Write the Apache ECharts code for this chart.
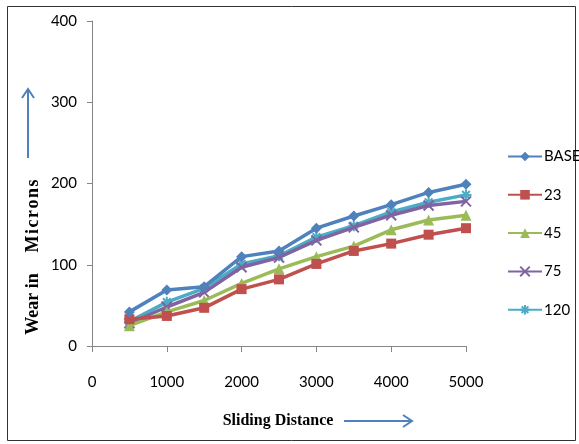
<!DOCTYPE html>
<html>
<head>
<meta charset="utf-8">
<script src="https://cdn.jsdelivr.net/npm/echarts@6/dist/echarts.min.js"></script>
<style>
html,body{margin:0;padding:0;background:#fff;}
#chart{width:579px;height:444px;}
</style>
</head>
<body>
<div id="chart"></div>
<script>
// Sliding distance (m) at which wear was measured
const distances = [500, 1000, 1500, 2000, 2500, 3000, 3500, 4000, 4500, 5000];

// Wear in microns for each specimen
const wearBase = [42, 69, 73, 110, 117, 145, 160, 174, 189, 199];
const wear23   = [33, 37, 47, 70, 82, 101, 117, 126, 137, 145];
const wear45   = [25, 42, 56, 77, 95, 110, 123, 143, 155, 161];
const wear75   = [28, 48, 66, 97, 109, 130, 146, 161, 173, 178];
const wear120  = [30, 54, 71, 101, 111, 134, 148, 165, 177, 186];

const seriesNames = ['BASE', '23', '45', '75', '120'];
const yTicks = [0, 100, 200, 300, 400];
const xTicks = [0, 1000, 2000, 3000, 4000, 5000];

const colors = ['#4F81BD', '#C0504D', '#9BBB59', '#8064A2', '#4BACC6'];
const symbols = [
  'diamond',
  'rect',
  'triangle',
  'path://M0,0L10,10M10,0L0,10',
  'path://M5,0L5,10M0,5L10,5M1.5,1.5L8.5,8.5M8.5,1.5L1.5,8.5'
];
const symbolSizes = [11, 10, 11, 10, 11];
const allWear = [wearBase, wear23, wear45, wear75, wear120];

const labelFont = 'Lato';

const chart = echarts.init(document.getElementById('chart'));

const series = seriesNames.map((name, i) => ({
  name: name,
  type: 'line',
  data: distances.map((d, j) => [d, allWear[i][j]]),
  symbol: symbols[i],
  symbolSize: symbolSizes[i],
  showSymbol: true,
  lineStyle: { color: colors[i], width: 3.5 },
  itemStyle: i >= 3
    ? { color: colors[i], borderColor: colors[i], borderWidth: 2 }
    : { color: colors[i] },
  animation: false,
  z: 10 - i
}));

chart.setOption({
  animation: false,
  backgroundColor: '#ffffff',
  grid: { left: 92, right: 113, top: 21, bottom: 98 },
  xAxis: {
    type: 'value',
    min: xTicks[0],
    max: xTicks[xTicks.length - 1],
    interval: 1000,
    axisLine: { show: true, lineStyle: { color: '#868686', width: 1 } },
    axisTick: { show: true, length: 6, lineStyle: { color: '#868686' } },
    splitLine: { show: false },
    axisLabel: {
      color: '#000', fontFamily: labelFont, fontSize: 15, margin: 29,
      formatter: v => xTicks.includes(v) ? String(v) : ''
    }
  },
  yAxis: {
    type: 'value',
    min: yTicks[0],
    max: yTicks[yTicks.length - 1],
    interval: 100,
    axisLine: { show: true, lineStyle: { color: '#868686', width: 1 } },
    axisTick: { show: true, length: 5, lineStyle: { color: '#868686' } },
    splitLine: { show: false },
    axisLabel: {
      color: '#000', fontFamily: labelFont, fontSize: 15, margin: 15,
      formatter: v => yTicks.includes(v) ? String(v) : ''
    }
  },
  legend: {
    orient: 'vertical',
    left: 502,
    top: 144,
    itemWidth: 34,
    itemHeight: 12,
    itemGap: 23.3,
    textStyle: { color: '#000', fontFamily: labelFont, fontSize: 15, padding: [0, 0, 0, -3] },
    data: seriesNames
  },
  graphic: [
    // outer frame
    { type: 'rect', shape: { x: 7.5, y: 6.5, width: 568, height: 434 },
      style: { fill: null, stroke: '#333', lineWidth: 1 }, silent: true },
    // y-axis title, in two parts
    { type: 'text', x: 33, y: 304, rotation: Math.PI / 2,
      style: { text: 'Wear in', font: 'bold 18px "Liberation Serif"', fill: '#000',
               align: 'center', verticalAlign: 'middle' } },
    { type: 'text', x: 33, y: 216, rotation: Math.PI / 2,
      style: { text: 'M\u200Ai\u200Ac\u200Ar\u200Ao\u200An\u200As', font: 'bold 18px "Liberation Serif"', fill: '#000',
               align: 'center', verticalAlign: 'middle' } },
    // up arrow
    { type: 'line', shape: { x1: 28, y1: 158, x2: 28, y2: 89 },
      style: { stroke: '#4F81BD', lineWidth: 2 } },
    { type: 'polyline', shape: { points: [[22, 98], [28, 89], [34, 98]] },
      style: { stroke: '#4F81BD', lineWidth: 2, fill: null } },
    // x-axis title
    { type: 'text', x: 278, y: 421,
      style: { text: 'Sliding Distance', font: 'bold 16px "Liberation Serif"', fill: '#000',
               align: 'center', verticalAlign: 'middle' } },
    // right arrow
    { type: 'line', shape: { x1: 344, y1: 421, x2: 412, y2: 421 },
      style: { stroke: '#4F81BD', lineWidth: 2 } },
    { type: 'polyline', shape: { points: [[403, 415], [412, 421], [403, 427]] },
      style: { stroke: '#4F81BD', lineWidth: 2, fill: null } }
  ],
  series: series
});
</script>
</body>
</html>
